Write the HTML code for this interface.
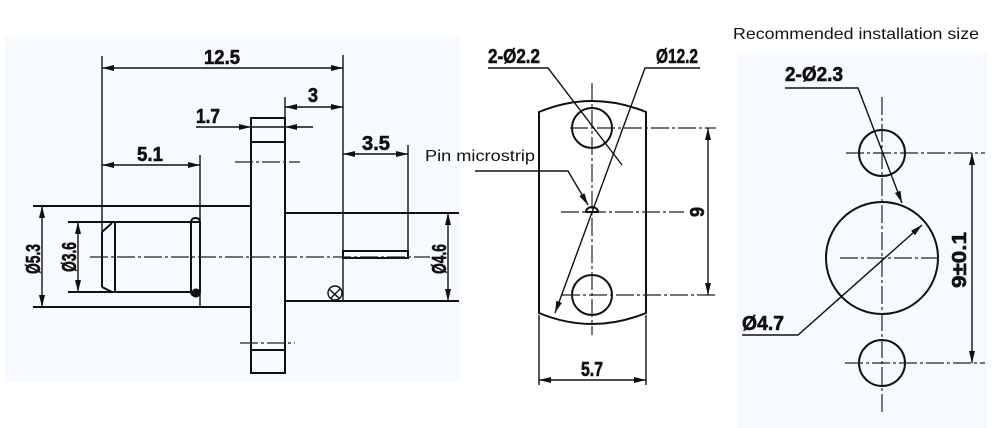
<!DOCTYPE html>
<html><head><meta charset="utf-8"><style>
html,body{margin:0;padding:0;background:#fff;}
svg{display:block}
.d{font-family:"Liberation Sans",sans-serif;font-weight:bold;font-size:20px;fill:#111;stroke:#111;stroke-width:0.6}
.l{stroke:#111;stroke-width:2;fill:none}
.t{stroke:#111;stroke-width:1.4;fill:none}
.c{stroke:#222;stroke-width:1.2;fill:none;stroke-dasharray:18 3 3 3}
</style></head><body>
<svg width="1000" height="428" viewBox="0 0 1000 428" xmlns="http://www.w3.org/2000/svg">
<defs>
<marker id="a" viewBox="0 0 12 6" refX="12" refY="3" markerWidth="12" markerHeight="6" orient="auto-start-reverse" markerUnits="userSpaceOnUse"><path d="M0,0 L12,3 L0,6 z" fill="#111"/></marker>
</defs>
<rect x="5" y="37" width="455" height="345" fill="#f6f9fd"/>
<rect x="737" y="53" width="250" height="375" fill="#f6f9fd"/>

<g>
<line class="t" x1="102" y1="56" x2="102" y2="287"/>
<line class="t" x1="343" y1="55" x2="343" y2="301"/>
<line class="t" x1="285" y1="97" x2="285" y2="118"/>
<line class="t" x1="200" y1="155" x2="200" y2="307"/>
<line class="t" x1="408" y1="145" x2="408" y2="257"/>
<line class="t" x1="102" y1="68" x2="343" y2="68" marker-start="url(#a)" marker-end="url(#a)"/>
<text class="d" x="204" y="64" textLength="36" lengthAdjust="spacingAndGlyphs">12.5</text>
<line class="t" x1="285" y1="107" x2="343" y2="107" marker-start="url(#a)" marker-end="url(#a)"/>
<text class="d" x="308" y="102" textLength="10" lengthAdjust="spacingAndGlyphs">3</text>
<line class="t" x1="196" y1="127" x2="251" y2="127" marker-end="url(#a)"/>
<line class="t" x1="285" y1="127" x2="313" y2="127" marker-start="url(#a)"/>
<line class="t" x1="251" y1="127" x2="285" y2="127"/>
<text class="d" x="196" y="123" textLength="24" lengthAdjust="spacingAndGlyphs">1.7</text>
<line class="t" x1="343" y1="154" x2="408" y2="154" marker-start="url(#a)" marker-end="url(#a)"/>
<text class="d" x="362" y="150" textLength="28" lengthAdjust="spacingAndGlyphs">3.5</text>
<line class="t" x1="102" y1="165" x2="200" y2="165" marker-start="url(#a)" marker-end="url(#a)"/>
<text class="d" x="137" y="161" textLength="26" lengthAdjust="spacingAndGlyphs">5.1</text>
<rect class="l" x="251" y="118" width="34" height="255"/>
<line class="l" x1="251" y1="142" x2="285" y2="142"/>
<line class="l" x1="251" y1="350" x2="285" y2="350"/>
<line class="c" x1="235" y1="162" x2="300" y2="162"/>
<line class="c" x1="240" y1="343" x2="295" y2="343"/>
<line class="l" x1="33" y1="206" x2="251" y2="206"/>
<line class="l" x1="33" y1="307" x2="251" y2="307"/>
<line class="l" x1="68" y1="222" x2="200" y2="222"/>
<line class="l" x1="68" y1="292" x2="200" y2="292"/>
<path class="l" d="M102,232 L112,223 M102,287 L112,292 M102,232 L102,287 M115,223 L115,292"/>
<rect class="l" x="191" y="218" width="9" height="78" rx="4"/>
<circle cx="196" cy="293" r="4.5" fill="#111"/>
<line class="t" x1="42" y1="206" x2="42" y2="307" marker-start="url(#a)" marker-end="url(#a)"/>
<text class="d" transform="translate(40,274) rotate(-90)" textLength="30" lengthAdjust="spacingAndGlyphs">Ø5.3</text>
<line class="t" x1="78" y1="222" x2="78" y2="292" marker-start="url(#a)" marker-end="url(#a)"/>
<text class="d" transform="translate(76,272) rotate(-90)" textLength="30" lengthAdjust="spacingAndGlyphs">Ø3.6</text>
<line class="l" x1="285" y1="213" x2="459" y2="213"/>
<line class="l" x1="285" y1="301" x2="459" y2="301"/>
<rect class="l" x="343" y="251" width="65" height="7"/>
<circle class="t" cx="335" cy="293" r="7"/>
<path class="t" d="M329,289 L340,299 M331,298 L341,288"/>
<line class="t" x1="448" y1="213" x2="448" y2="301" marker-start="url(#a)" marker-end="url(#a)"/>
<text class="d" transform="translate(446,274) rotate(-90)" textLength="30" lengthAdjust="spacingAndGlyphs">Ø4.6</text>
<line class="c" x1="90" y1="257" x2="430" y2="257"/>
</g>

<g>
<path class="l" d="M539,112 Q592,90 646,112 L646,313 Q592,335 539,313 Z"/>
<circle class="l" cx="592" cy="128" r="20"/>
<circle class="l" cx="592" cy="295" r="20"/>
<line class="c" x1="592" y1="83" x2="592" y2="335"/>
<line class="c" x1="570" y1="128" x2="716" y2="128"/>
<line class="c" x1="562" y1="295" x2="716" y2="295"/>
<line class="c" x1="561" y1="212" x2="684" y2="212"/>
<path class="l" d="M586,212 A6,5 0 0 1 598,212 Z"/>
<line class="t" x1="708" y1="128" x2="708" y2="295" marker-start="url(#a)" marker-end="url(#a)"/>
<text class="d" transform="translate(704,217) rotate(-90)" textLength="10" lengthAdjust="spacingAndGlyphs">9</text>
<line class="t" x1="539" y1="315" x2="539" y2="385"/>
<line class="t" x1="646" y1="315" x2="646" y2="385"/>
<line class="t" x1="539" y1="380" x2="646" y2="380" marker-start="url(#a)" marker-end="url(#a)"/>
<text class="d" x="581" y="376" textLength="22" lengthAdjust="spacingAndGlyphs">5.7</text>
<text class="d" x="488" y="63" textLength="52" lengthAdjust="spacingAndGlyphs">2-Ø2.2</text>
<polyline class="t" points="488,68 548,68 622,165"/>
<text class="d" x="656" y="63" textLength="42" lengthAdjust="spacingAndGlyphs">Ø12.2</text>
<polyline class="t" points="700,68 645,68 555,313" marker-end="url(#a)"/>
<text x="425" y="161" font-family="Liberation Sans, sans-serif" font-size="16" fill="#111" textLength="110" lengthAdjust="spacingAndGlyphs">Pin microstrip</text>
<polyline class="t" points="475,171 568,171 588,205" marker-end="url(#a)"/>
</g>

<g>
<text x="733" y="39" font-family="Liberation Sans, sans-serif" font-size="16" fill="#111" textLength="246" lengthAdjust="spacingAndGlyphs">Recommended installation size</text>
<circle class="l" cx="882" cy="153" r="23"/>
<circle class="l" cx="882" cy="258" r="56"/>
<circle class="l" cx="882" cy="363" r="23"/>
<line class="c" x1="882" y1="97" x2="882" y2="415"/>
<line class="c" x1="846" y1="153" x2="985" y2="153"/>
<line class="c" x1="845" y1="363" x2="985" y2="363"/>
<line class="c" x1="840" y1="258" x2="940" y2="258"/>
<line class="t" x1="972" y1="153" x2="972" y2="363" marker-start="url(#a)" marker-end="url(#a)"/>
<text class="d" transform="translate(966,288) rotate(-90)" textLength="56" lengthAdjust="spacingAndGlyphs">9±0.1</text>
<text class="d" x="785" y="81" textLength="58" lengthAdjust="spacingAndGlyphs">2-Ø2.3</text>
<polyline class="t" points="785,88 858,88 902,203" marker-end="url(#a)"/>
<text class="d" x="742" y="330" textLength="42" lengthAdjust="spacingAndGlyphs">Ø4.7</text>
<polyline class="t" points="742,335 798,335 922,225" marker-end="url(#a)"/>
</g>
</svg>
</body></html>
